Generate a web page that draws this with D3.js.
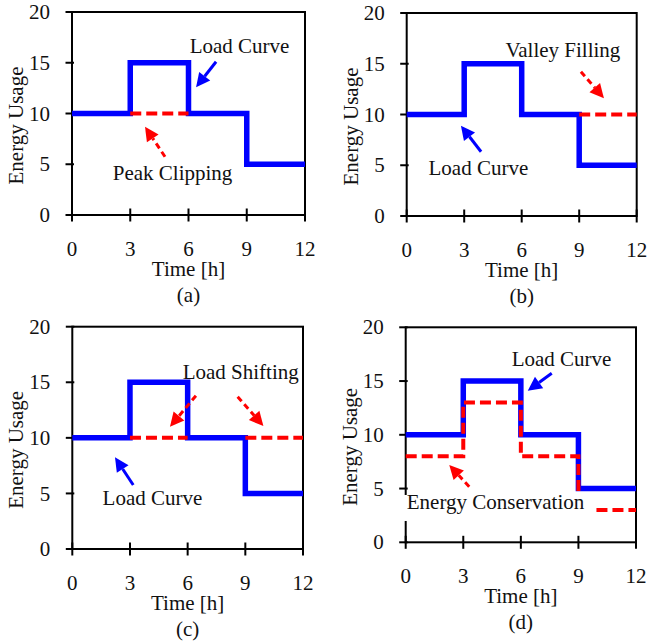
<!DOCTYPE html>
<html>
<head>
<meta charset="utf-8">
<script src="https://cdn.jsdelivr.net/npm/d3@7"></script>
<style>
  body { margin: 0; background: #fff; }
  svg { display: block; }
  text { font-family: "Liberation Serif", "Times New Roman", serif; fill: #111; }
</style>
</head>
<body>
<svg id="chart" width="647" height="641"></svg>
<script>
// ---- data ----
var xTicks = [0, 3, 6, 9, 12];
var yTicks = [0, 5, 10, 15, 20];

// original load curve (step, value holds until next hour)
var loadHours = [0, 3, 6, 9, 12];
var loadValues = [10, 15, 10, 5, 5];

// DSM variants (red dashed)
var peakHours = [3, 6];
var peakValues = [10, 10];
var valleyHours = [9, 12];
var valleyValues = [10, 10];
var shiftHours = [3, 6, 6, 9, 12];
var shiftValues = [10, 10, null, 10, 10];
var consHours = [0, 3, 6, 9, 12];
var consValues = [8, 13, 8, 3, 3];

var panelLabels = ["(a)", "(b)", "(c)", "(d)"];

// annotations in data units: [hour, value]
var notes = [
  { panel: 0, text: "Load Curve", at: [8.63, 15.93], color: "blue", from: [7.42, 15.1], to: [6.39, 12.58] },
  { panel: 0, text: "Peak Clipping", at: [5.18, 3.45], color: "red", from: [4.79, 5.74], to: [3.76, 8.7] },
  { panel: 1, text: "Valley Filling", at: [8.15, 15.64], color: "red", from: [9.09, 14.22], to: [10.29, 11.6] },
  { panel: 1, text: "Load Curve", at: [3.74, 4.04], color: "blue", from: [3.88, 6.33], to: [2.83, 8.9] },
  { panel: 2, text: "Load Shifting", at: [8.76, 15.27], color: "red", from: [6.43, 13.79], to: [5.08, 11.0] },
  { panel: 2, text: null, color: "red", from: [8.6, 13.7], to: [9.94, 11.07] },
  { panel: 2, text: "Load Curve", at: [4.17, 3.96], color: "blue", from: [3.17, 5.76], to: [2.22, 8.25] },
  { panel: 3, text: "Load Curve", at: [8.12, 16.4], color: "blue", from: [7.61, 15.72], to: [6.36, 14.1] },
  { panel: 3, text: "Energy Conservation", at: [4.68, 3.1], color: "red", from: [3.31, 5.17], to: [2.27, 7.19], box: true }
];

// ---- layout (pixel frames of each plot area) ----
var frames = [
  { left: 72, right: 305, top: 12, bottom: 215 },
  { left: 406.7, right: 636.7, top: 13, bottom: 216 },
  { left: 72.3, right: 303, top: 326.7, bottom: 549 },
  { left: 405.7, right: 636, top: 327.3, bottom: 542.3 }
];

var BLUE = "#0000ff", RED = "#ff0000";

var svg = d3.select("#chart");
svg.append("rect").attr("width", 647).attr("height", 641).attr("fill", "#fff");

function arrow(g, x1, y1, x2, y2, color, dashed) {
  var ang = Math.atan2(y2 - y1, x2 - x1);
  var hl = 14, hw = 7;
  var bx = x2 - hl * Math.cos(ang), by = y2 - hl * Math.sin(ang);
  g.append("line")
    .attr("x1", x1).attr("y1", y1).attr("x2", bx).attr("y2", by)
    .attr("stroke", color).attr("stroke-width", 3)
    .attr("stroke-dasharray", dashed ? "6,4" : null);
  var px = -Math.sin(ang) * hw, py = Math.cos(ang) * hw;
  g.append("path")
    .attr("d", "M" + x2 + "," + y2 + "L" + (bx + px) + "," + (by + py) + "L" + (bx - px) + "," + (by - py) + "Z")
    .attr("fill", color);
}

frames.forEach(function(f, i) {
  var g = svg.append("g");
  var x = d3.scaleLinear().domain([0, 12]).range([f.left, f.right]);
  var y = d3.scaleLinear().domain([0, 20]).range([f.bottom, f.top]);

  var line = d3.line()
    .defined(function(d) { return d[1] !== null; })
    .x(function(d) { return x(d[0]); })
    .y(function(d) { return y(d[1]); });

  // frame
  g.append("rect")
    .attr("x", f.left).attr("y", f.top)
    .attr("width", f.right - f.left).attr("height", f.bottom - f.top)
    .attr("fill", "none").attr("stroke", "#000").attr("stroke-width", 2);

  // x axis ticks (crossing)
  g.selectAll(".xt").data(xTicks).enter().append("line")
    .attr("x1", x).attr("x2", x)
    .attr("y1", f.bottom - 6.5).attr("y2", f.bottom + 6.5)
    .attr("stroke", "#000").attr("stroke-width", 2);
  g.selectAll(".xl").data(xTicks).enter().append("text")
    .attr("x", x).attr("y", f.bottom + 41)
    .attr("text-anchor", "middle").attr("font-size", 21)
    .text(function(d) { return d; });

  // y axis ticks
  g.selectAll(".yt").data(yTicks).enter().append("line")
    .attr("y1", y).attr("y2", y)
    .attr("x1", f.left - 6.5).attr("x2", f.left + 2)
    .attr("stroke", "#000").attr("stroke-width", 2);
  g.selectAll(".yl").data(yTicks).enter().append("text")
    .attr("x", f.left - 22).attr("y", y).attr("dy", "0.34em")
    .attr("text-anchor", "end").attr("font-size", 21)
    .text(function(d) { return d; });

  // axis titles
  g.append("text")
    .attr("transform", "translate(" + (f.left - 49) + "," + ((f.top + f.bottom) / 2 + 12) + ") rotate(-90)")
    .attr("text-anchor", "middle").attr("font-size", 21)
    .text("Energy Usage");
  g.append("text")
    .attr("x", (f.left + f.right) / 2).attr("y", f.bottom + 61)
    .attr("text-anchor", "middle").attr("font-size", 21)
    .text("Time [h]");
  g.append("text")
    .attr("x", (f.left + f.right) / 2).attr("y", f.bottom + 87)
    .attr("text-anchor", "middle").attr("font-size", 21)
    .text(panelLabels[i]);

  // load curve
  var load = d3.zip(loadHours, loadValues);
  g.append("path")
    .attr("d", line.curve(d3.curveStepAfter)(load))
    .attr("fill", "none").attr("stroke", BLUE).attr("stroke-width", 5.5)
    .attr("stroke-linejoin", "miter");

  var red;
  if (i === 0) red = d3.zip(peakHours, peakValues);
  if (i === 1) red = d3.zip(valleyHours, valleyValues);
  if (i === 2) red = d3.zip(shiftHours, shiftValues);
  if (i === 3) red = d3.zip(consHours, consValues);
  g.append("path")
    .attr("d", line.curve(d3.curveStepAfter)(red))
    .attr("fill", "none").attr("stroke", RED).attr("stroke-width", 4)
    .attr("stroke-dasharray", "11,5");

  // annotations
  notes.filter(function(n) { return n.panel === i; }).forEach(function(n) {
    if (n.text) {
      var t = g.append("text")
        .attr("x", x(n.at[0])).attr("y", y(n.at[1]))
        .attr("text-anchor", "middle").attr("font-size", 21)
        .text(n.text);
      if (n.box) {
        // white patch behind the label hides the dashed line under it
        var bb = t.node().getBBox();
        g.insert("rect", function() { return t.node(); })
          .attr("x", bb.x - 4).attr("y", bb.y + 5)
          .attr("width", bb.width + 13).attr("height", bb.height + 2)
          .attr("fill", "#fff");
      }
    }
    arrow(g, x(n.from[0]), y(n.from[1]), x(n.to[0]), y(n.to[1]),
      n.color === "blue" ? BLUE : RED, n.color === "red");
  });
});
</script>
</body>
</html>
